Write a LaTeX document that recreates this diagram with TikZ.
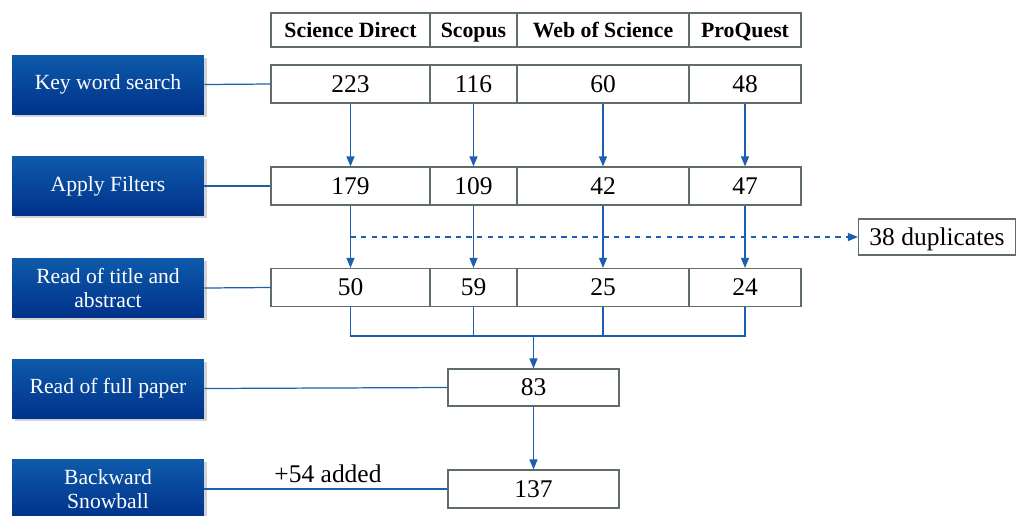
\documentclass[tikz,border=0pt]{standalone}
\usepackage{fontspec}
\setmainfont{Liberation Serif}
\usetikzlibrary{arrows.meta,shadows}

\definecolor{sbtop}{RGB}{14,90,170}
\definecolor{sbbot}{RGB}{0,50,138}
\definecolor{sbline}{RGB}{28,94,176}
\definecolor{sbframe}{RGB}{95,108,104}

\tikzset{
  stage/.style={minimum width=3.84cm, minimum height=1.18cm, inner sep=1pt,
    top color=sbtop, bottom color=sbbot, text=white, align=center,
    font=\fontsize{12.3}{13.6}\selectfont,
    drop shadow={opacity=0.35, shadow xshift=1.5pt, shadow yshift=-1.5pt}},
  cell/.style={draw=sbframe, line width=0.7pt, fill=white, inner sep=0pt,
    text height=9.6pt, text depth=0pt,
    minimum height=0.76cm, font=\fontsize{14.5}{16}\selectfont},
  head/.style={cell, minimum height=0.68cm, text height=8.3pt,
    font=\bfseries\fontsize{12.4}{13}\selectfont},
  link/.style={sbline, line width=0.7pt},
  arr/.style={link, -{Triangle[length=2mm, width=1.6mm]}},
}

\begin{document}
\begin{tikzpicture}[x=0.02cm, y=-0.02cm]
  \useasboundingbox (0,0) rectangle (1016,515);

  % Stages
  \node[stage] (kws)   at (108,84.5) {Key word search};
  \node[stage] (filt)  at (108,186)  {Apply Filters};
  \node[stage] (title) at (108,288)  {Read of title and\\abstract};
  \node[stage] (full)  at (108,388.5){Read of full paper};
  \node[stage] (snow)  at (108,489)  {Backward\\Snowball};

  % Databases
  \node[head, minimum width=3.18cm] (hda) at (350.5,30) {Science Direct};
  \node[head, minimum width=1.74cm] (hdb) at (473.5,30) {Scopus};
  \node[head, minimum width=3.44cm] (hdc) at (603,30)   {Web of Science};
  \node[head, minimum width=2.24cm] (hdd) at (745,30)   {ProQuest};

  % Key word search
  \node[cell, minimum width=3.18cm] (r1a) at (350.5,84) {223};
  \node[cell, minimum width=1.74cm] (r1b) at (473.5,84) {116};
  \node[cell, minimum width=3.44cm] (r1c) at (603,84)   {60};
  \node[cell, minimum width=2.24cm] (r1d) at (745,84)   {48};

  % Filters
  \node[cell, minimum width=3.18cm] (r2a) at (350.5,186) {179};
  \node[cell, minimum width=1.74cm] (r2b) at (473.5,186) {109};
  \node[cell, minimum width=3.44cm] (r2c) at (603,186)   {42};
  \node[cell, minimum width=2.24cm] (r2d) at (745,186)   {47};

  % Title and abstract
  \node[cell, minimum width=3.18cm] (r3a) at (350.5,287.5) {50};
  \node[cell, minimum width=1.74cm] (r3b) at (473.5,287.5) {59};
  \node[cell, minimum width=3.44cm] (r3c) at (603,287.5)   {25};
  \node[cell, minimum width=2.24cm] (r3d) at (745,287.5)   {24};

  % Totals
  \node[cell, minimum width=3.42cm, minimum height=0.74cm] (n83)  at (533.5,387.5) {83};
  \node[cell, minimum width=3.42cm] (n137) at (533.5,489) {137};
  \node[cell, minimum width=3.14cm, minimum height=0.72cm] (dup) at (937,237) {38 duplicates};
  \node[font=\fontsize{14.5}{16}\selectfont] (added) at (328,474) {+54 added};

  % Stage links
  \draw[link] (kws.east)   -- (r1a.west);
  \draw[link] (filt.east)  -- (r2a.west);
  \draw[link] (title.east) -- (r3a.west);
  \draw[link] (full.east)  -- (n83.west);
  \draw[link] (snow.east)  -- (n137.west);

  % Flow down
  \foreach \c in {a,b,c,d} {
    \draw[arr] (r1\c.south) -- (r2\c.north);
    \draw[arr] (r2\c.south) -- (r3\c.north);
  }
  \draw[arr, dashed] (r2a.south |- dup.west) -- (dup.west);

  % Merge
  \coordinate (merge) at (533.5,336);
  \draw[link] (r3a.south) |- (merge) -| (r3d.south);
  \draw[link] (r3b.south) -- (r3b.south |- merge);
  \draw[link] (r3c.south) -- (r3c.south |- merge);
  \draw[arr] (merge) -- (n83.north);
  \draw[arr] (n83.south) -- (n137.north);

\end{tikzpicture}
\end{document}
